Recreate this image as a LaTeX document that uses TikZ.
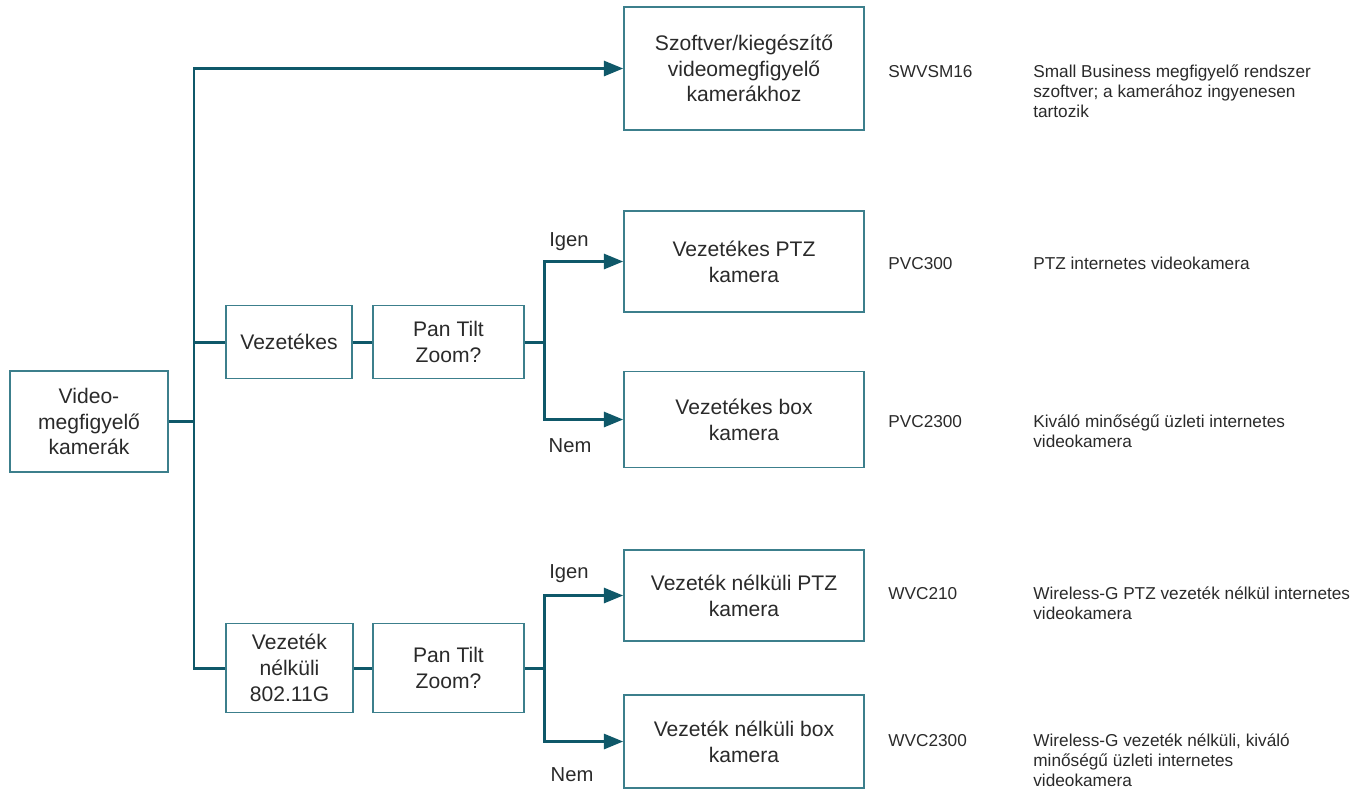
\documentclass[tikz,border=0pt]{standalone}
\usepackage{fontspec}
\setmainfont{Liberation Sans}
\usetikzlibrary{arrows.meta,positioning}
\definecolor{tline}{HTML}{0F5869}
\definecolor{tbox}{HTML}{3C7F8C}
\definecolor{ttext}{HTML}{2A2A2A}
\tikzset{
  % outlined box, teal stroke
  blk/.style   = {rectangle, draw=tbox, line width=0.9pt, align=center, text=ttext,
                  font=\fontsize{12}{14.7}\selectfont, inner sep=2pt},
  lane/.style  = {line width=1.7pt, tline},
  arr/.style   = {lane, -{Triangle[length=11pt,width=8.5pt]}},
  yn/.style    = {font=\fontsize{11.5}{14}\selectfont, text=ttext},
  code/.style  = {anchor=north west, inner sep=0pt, align=left, text=ttext,
                  font=\fontsize{9.8}{11.5}\selectfont},
  desc/.style  = {code},
}
\begin{document}
\begin{tikzpicture}[x=0.02cm, y=-0.02cm]
\useasboundingbox (0,0) rectangle (1365,789);
% boxes
\node[blk, minimum width=3.16cm, minimum height=2.02cm] (root) at (89,421.5) {Video-\\megfigyelő\\kamerák};
\node[blk, minimum width=4.8cm, minimum height=2.46cm] (sw) at (744,68.5) {Szoftver/kiegészítő\\videomegfigyelő\\kamerákhoz};
\node[blk, minimum width=2.52cm, minimum height=1.46cm] (wired) at (289,342) {Vezetékes};
\node[blk, minimum width=3.02cm, minimum height=1.46cm] (pt1) at (448.5,342) {Pan Tilt\\Zoom?};
\node[blk, minimum width=4.8cm, minimum height=2.02cm] (ptz1) at (744,261.5) {Vezetékes PTZ\\kamera};
\node[blk, minimum width=4.8cm, minimum height=1.92cm] (box1) at (744,419.5) {Vezetékes box\\kamera};
\node[blk, minimum width=2.54cm, minimum height=1.78cm] (wless) at (289.5,668) {Vezeték\\nélküli\\802.11G};
\node[blk, minimum width=3.02cm, minimum height=1.78cm] (pt2) at (448.5,668) {Pan Tilt\\Zoom?};
\node[blk, minimum width=4.8cm, minimum height=1.82cm] (ptz2) at (744,595.5) {Vezeték nélküli PTZ\\kamera};
\node[blk, minimum width=4.8cm, minimum height=1.86cm] (box2) at (744,741.5) {Vezeték nélküli box\\kamera};
% hubs
\coordinate (hub) at (194,421.5);
\coordinate (h1)  at (544,342);
\coordinate (h2)  at (544,668);
% connectors
\draw[lane] (root) -- (hub);
\draw[arr]  (hub) |- (sw);
\draw[lane] (hub) |- (wired);
\draw[lane] (hub) |- (wless);
\draw[lane] (wired) -- (pt1);
\draw[lane] (wless) -- (pt2);
\draw[lane] (pt1) -- (h1);
\draw[arr]  (h1) |- (ptz1);
\draw[arr]  (h1) |- (box1);
\draw[lane] (pt2) -- (h2);
\draw[arr]  (h2) |- (ptz2);
\draw[arr]  (h2) |- (box2);
% yes / no
\node[yn] (y1) at (569,242) {Igen};
\node[yn] (n1) at (570,446) {Nem};
\node[yn] (y2) at (569,574) {Igen};
\node[yn] (n2) at (572,775) {Nem};
% model codes and descriptions
\node[code] (csw)  at (888,63)  {\strut SWVSM16};
\node[desc] (dsw)  at (1033,63) {\strut Small Business megfigyelő rendszer\\szoftver; a kamerához ingyenesen\\tartozik};
\node[code] (cp1)  at (888,255) {\strut PVC300};
\node[desc] (dp1)  at (1033,255) {\strut PTZ internetes videokamera};
\node[code] (cb1)  at (888,413) {\strut PVC2300};
\node[desc] (db1)  at (1033,413) {\strut Kiváló minőségű üzleti internetes\\videokamera};
\node[code] (cp2)  at (888,585) {\strut WVC210};
\node[desc] (dp2)  at (1033,585) {\strut Wireless-G PTZ vezeték nélkül internetes\\videokamera};
\node[code] (cb2)  at (888,732) {\strut WVC2300};
\node[desc] (db2)  at (1033,732) {\strut Wireless-G vezeték nélküli, kiváló\\minőségű üzleti internetes\\videokamera};
\end{tikzpicture}
\end{document}
